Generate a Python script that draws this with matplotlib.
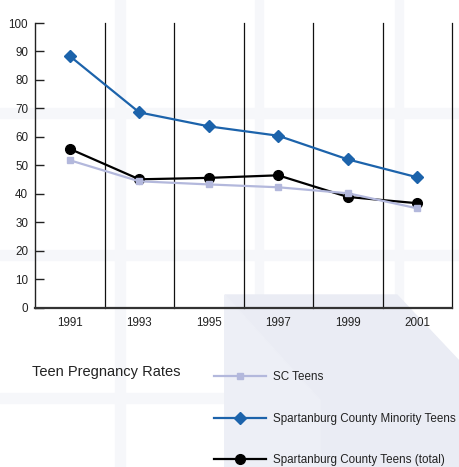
import matplotlib
matplotlib.use('Agg')
import matplotlib.pyplot as plt
from matplotlib.patches import Rectangle, Polygon
from matplotlib import font_manager

# ============================================================
#  DATA
# ============================================================
years = [1991, 1993, 1995, 1997, 1999, 2001]
sc_teens = [51.8, 44.4, 43.3, 42.3, 40.2, 34.9]
minority_teens = [88.4, 68.6, 63.7, 60.4, 52.1, 45.8]
total_teens = [55.8, 45.1, 45.6, 46.5, 38.9, 36.7]
y_ticks = list(range(0, 101, 10))
dividers = [1992, 1994, 1996, 1998, 2000, 2002]

title = 'Teen Pregnancy Rates'
labels = ['SC Teens', 'Spartanburg County Minority Teens',
          'Spartanburg County Teens (total)']

# ============================================================
#  FONT
# ============================================================
names = {f.name for f in font_manager.fontManager.ttflist}
narrow = 'Liberation Sans Narrow' in names
plt.rcParams['font.family'] = ['Liberation Sans Narrow', 'Liberation Sans', 'DejaVu Sans']
fs = 10 if narrow else 8.4

W, H = 460, 467
fig = plt.figure(figsize=(W / 100, H / 100), dpi=100)


def px(x, y):
    return (x / W, 1 - y / H)


# ---- faint background decoration (behind the axes) ----
stripe = '#f6f7fa'
for x0, x1 in [(115, 125), (255, 263), (395, 403)]:
    fig.patches.append(Rectangle(px(x0, H), (x1 - x0) / W, 1, transform=fig.transFigure,
                                 color=stripe, zorder=-5))
for y0, y1 in [(108, 118), (250, 260), (393, 403)]:
    fig.patches.append(Rectangle(px(0, y1), 1, (y1 - y0) / H, transform=fig.transFigure,
                                 color=stripe, zorder=-5))
fig.patches.append(Polygon([px(225, 295), px(397, 295), px(460, 362), px(460, 467), px(225, 467)],
                           closed=True, transform=fig.transFigure, color='#eaecf4', zorder=-4))
fig.patches.append(Polygon([px(225, 295), px(320, 400), px(320, 467), px(225, 467)],
                           closed=True, transform=fig.transFigure, color='#edeff6', zorder=-4))

# ---- chart ----
ax = fig.add_axes([35 / W, 1 - 307.7 / H, 417 / W, 284.7 / H])
ax.patch.set_alpha(0)

for d in dividers:
    ax.axvline(d, color='#111111', lw=0.9, clip_on=False, zorder=1)

ax.plot(years, minority_teens, color='#1c63ab', lw=1.6, marker='D', ms=6.5, zorder=3,
        label=labels[1])
ax.plot(years, total_teens, color='black', lw=1.6, marker='o', ms=7, zorder=3,
        label=labels[2])
ax.plot(years, sc_teens, color='#b3b8dc', lw=1.6, marker='s', ms=5, zorder=4,
        label=labels[0])

ax.set_xlim(1990, 2002)
ax.set_ylim(0, 100)
ax.set_xticks(years)
ax.set_xticklabels([str(y) for y in years], fontsize=fs, color='#222222')
ax.set_yticks(y_ticks)
ax.set_yticklabels([str(v) for v in y_ticks], fontsize=fs, color='#222222')
ax.tick_params(axis='x', length=0, pad=7)
ax.tick_params(axis='y', direction='in', length=6.5, width=1, color='#222222', pad=5)

for s in ['top', 'right']:
    ax.spines[s].set_visible(False)
ax.spines['left'].set_color('#222222')
ax.spines['left'].set_linewidth(1.0)
ax.spines['bottom'].set_color('#333333')
ax.spines['bottom'].set_linewidth(1.6)

fig.text(*px(32, 372), title, fontsize=fs * 1.25, color='#222222', va='center', ha='left')

h, l = ax.get_legend_handles_labels()
order = [2, 0, 1]
fig.legend([h[i] for i in order], [l[i] for i in order], loc='upper left',
           bbox_to_anchor=px(214, 371), frameon=False, fontsize=fs,
           handlelength=4.45, handletextpad=0.6, labelspacing=2.55,
           borderpad=0, borderaxespad=0, labelcolor='#222222')

fig.savefig('out.png', dpi=100)
